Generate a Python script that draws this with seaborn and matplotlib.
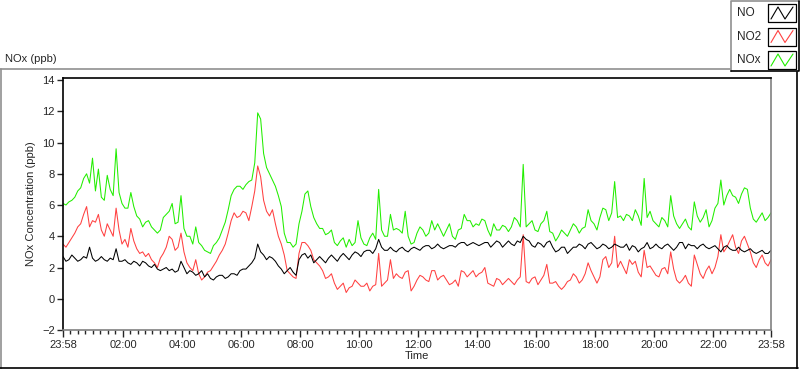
import matplotlib
matplotlib.use("Agg")
import matplotlib.pyplot as plt
import matplotlib.dates as mdates
from matplotlib.lines import Line2D
import pandas as pd
import seaborn as sns

# readings taken every 6 minutes after 23:58:
# *_on = on the 12-minute marks, *_mid = the readings in between
minutes = list(range(0, 1441, 6))

no_on = [2.7, 2.5, 2.6, 2.5, 2.6, 2.6, 2.5, 2.5, 2.6, 3.2, 2.4, 2.3, 2.4, 2.1, 2.3, 2.0, 1.9, 1.9, 1.8, 1.7, 2.4, 1.6, 1.7, 1.6,
         1.4, 1.3, 1.4, 1.5, 1.4, 1.6, 1.8, 1.9, 2.3, 3.5, 2.8, 2.7, 2.4, 1.9, 1.8, 1.7, 2.5, 2.9, 2.8, 2.5, 2.5, 2.6, 2.6, 2.7,
         2.7, 2.8, 2.9, 3.0, 3.1, 3.2, 3.3, 3.1, 3.1, 3.2, 3.1, 3.2, 3.2, 3.3, 3.4, 3.3, 3.3, 3.3, 3.4, 3.5, 3.6, 3.5, 3.5, 3.5,
         3.6, 3.5, 3.6, 3.5, 3.5, 3.7, 4.0, 3.7, 3.3, 3.5, 3.6, 3.3, 3.1, 3.3, 3.1, 3.3, 3.4, 3.5, 3.4, 3.3, 3.4, 3.3, 3.4, 3.3,
         3.1, 3.3, 3.2, 3.6, 3.3, 3.3, 3.4, 3.3, 3.3, 3.6, 3.5, 3.4, 3.4, 3.3, 3.3, 3.2, 3.3, 3.2, 3.1, 3.1, 3.1, 3.0, 3.0, 2.9, 3.1]
no_mid = [2.4, 2.8, 2.4, 2.7, 3.3, 2.4, 2.7, 2.4, 2.5, 2.4, 2.5, 2.2, 2.3, 2.4, 2.1, 2.2, 1.8, 2.0, 1.9, 1.8, 2.0, 1.8, 1.5, 1.8,
          1.6, 1.2, 1.5, 1.3, 1.6, 1.5, 1.9, 2.1, 2.6, 3.0, 2.5, 2.6, 2.1, 1.6, 2.0, 1.5, 2.8, 2.6, 2.3, 2.7, 2.3, 2.8, 2.4, 2.9,
          2.5, 3.0, 2.7, 3.1, 2.9, 3.8, 3.1, 3.3, 3.0, 3.3, 3.0, 3.3, 3.1, 3.4, 3.2, 3.5, 3.2, 3.4, 3.3, 3.6, 3.4, 3.6, 3.4, 3.6,
          3.3, 3.7, 3.3, 3.7, 3.4, 3.6, 3.8, 3.4, 3.6, 3.3, 3.7, 3.0, 3.3, 2.9, 3.3, 3.5, 3.2, 3.6, 3.2, 3.5, 3.2, 3.5, 3.3, 3.5,
          3.4, 3.0, 3.3, 3.2, 3.5, 3.2, 3.5, 3.1, 3.6, 3.2, 3.4, 3.2, 3.5, 3.2, 3.4, 3.0, 3.4, 3.1, 3.3, 3.0, 3.2, 2.9, 3.1, 2.9]

no2_on = [3.5, 3.6, 4.2, 4.8, 5.9, 5.0, 5.4, 4.0, 4.4, 5.8, 3.5, 3.3, 3.7, 2.9, 2.7, 2.5, 2.0, 2.9, 4.0, 3.1, 4.2, 2.3, 1.8, 1.6,
          1.4, 1.8, 2.4, 3.1, 4.2, 5.5, 5.3, 5.5, 5.9, 8.5, 6.3, 5.3, 4.8, 3.5, 1.8, 1.4, 2.9, 3.6, 3.1, 2.3, 1.8, 1.4, 1.0, 0.8,
          0.4, 0.8, 1.0, 0.8, 0.5, 0.9, 0.8, 1.2, 1.3, 1.4, 1.7, 0.5, 1.2, 1.4, 1.1, 1.8, 1.4, 1.2, 1.0, 0.8, 1.7, 1.6, 1.4, 1.7,
          1.0, 0.8, 1.2, 1.1, 1.1, 1.2, 4.1, 1.0, 1.4, 1.2, 2.2, 1.0, 0.8, 0.8, 1.2, 1.4, 1.2, 2.3, 1.4, 1.4, 2.7, 2.3, 2.0, 2.0,
          2.5, 2.4, 1.4, 2.0, 1.8, 1.4, 2.0, 3.0, 1.2, 1.2, 1.0, 2.8, 1.6, 1.8, 1.6, 2.7, 3.0, 3.7, 3.3, 3.7, 3.5, 2.3, 2.5, 2.3, 2.5]
no2_mid = [3.3, 3.9, 4.6, 5.4, 4.6, 4.9, 4.4, 4.8, 4.0, 4.4, 3.8, 4.5, 3.2, 3.0, 2.9, 2.3, 2.6, 3.3, 3.8, 3.3, 3.0, 2.0, 2.5, 1.2,
           1.7, 2.1, 2.8, 3.5, 5.0, 5.2, 5.6, 5.0, 6.9, 7.8, 5.6, 5.7, 4.0, 2.8, 1.6, 1.3, 3.6, 3.4, 2.5, 2.1, 1.3, 1.6, 0.6, 1.0,
           0.7, 1.2, 0.8, 1.0, 0.8, 2.9, 1.0, 2.5, 1.6, 1.3, 1.8, 0.8, 1.5, 1.2, 1.8, 1.2, 1.5, 0.9, 1.2, 1.8, 1.4, 1.8, 1.6, 2.0,
           0.9, 1.3, 0.9, 1.3, 0.9, 1.4, 1.1, 1.3, 0.9, 1.5, 1.0, 1.1, 0.6, 1.1, 1.6, 1.0, 1.6, 1.8, 1.0, 2.5, 2.0, 4.0, 2.4, 1.6,
           2.2, 1.7, 3.1, 2.1, 1.5, 1.9, 1.6, 1.9, 1.0, 1.5, 0.8, 2.2, 1.3, 2.1, 2.0, 4.1, 3.3, 4.1, 2.9, 4.0, 3.0, 2.0, 2.8, 2.1]

nox_on = [6.1, 6.2, 6.5, 7.1, 8.0, 9.0, 8.3, 6.3, 7.0, 9.6, 6.1, 5.8, 5.9, 5.1, 4.9, 4.6, 4.2, 5.2, 5.6, 4.8, 6.6, 4.0, 3.5, 3.6,
          3.1, 2.9, 3.6, 4.4, 5.7, 7.0, 7.2, 7.3, 7.6, 11.9, 9.3, 8.0, 7.2, 5.9, 3.6, 3.3, 4.8, 6.7, 5.9, 4.8, 4.5, 4.2, 3.6, 3.7,
          3.3, 3.4, 5.0, 3.5, 3.9, 3.8, 4.4, 4.0, 4.4, 4.4, 5.6, 3.5, 4.2, 4.4, 4.2, 4.4, 4.4, 4.4, 4.0, 4.4, 5.4, 5.0, 4.8, 5.1,
          4.4, 4.8, 4.4, 4.6, 4.6, 5.0, 8.6, 4.8, 4.4, 4.8, 5.6, 4.2, 4.0, 4.2, 4.4, 4.6, 4.5, 5.7, 4.8, 5.2, 5.7, 5.5, 5.2, 5.0,
          5.3, 5.7, 4.7, 5.2, 5.0, 4.6, 5.0, 6.6, 4.8, 4.8, 4.6, 6.2, 4.9, 5.7, 5.0, 6.1, 6.0, 7.0, 6.5, 6.7, 7.0, 5.1, 5.2, 5.0, 5.5]
nox_mid = [6.0, 6.3, 6.9, 7.7, 7.4, 6.9, 6.5, 7.9, 6.6, 6.8, 5.8, 6.8, 5.3, 4.6, 5.0, 4.4, 4.4, 5.4, 6.1, 4.9, 4.5, 4.0, 4.6, 3.4,
           3.0, 3.4, 3.9, 4.9, 6.6, 7.2, 7.0, 7.5, 8.7, 11.5, 8.4, 7.6, 6.6, 4.2, 3.6, 3.5, 5.6, 6.9, 5.2, 4.5, 4.1, 4.4, 3.4, 3.9,
           3.8, 3.6, 3.9, 3.4, 4.2, 7.0, 4.0, 5.4, 4.5, 4.2, 4.0, 3.6, 4.6, 4.0, 5.0, 4.8, 4.0, 4.8, 3.8, 4.5, 5.0, 4.6, 4.7, 5.0,
           4.0, 4.4, 4.7, 4.3, 5.2, 4.6, 4.6, 5.0, 4.3, 5.0, 4.3, 3.7, 4.4, 4.0, 4.8, 4.2, 4.6, 5.0, 4.4, 5.8, 5.0, 7.5, 5.3, 5.4,
           5.0, 5.3, 7.7, 5.6, 4.8, 5.2, 4.6, 5.3, 4.5, 5.1, 4.4, 5.3, 5.2, 4.6, 5.8, 7.6, 6.6, 6.6, 6.1, 7.1, 5.8, 4.9, 5.5, 5.2]

series_names = ["NO", "NO2", "NOx"]
series_colors = {"NO": "black", "NO2": "#ff4040", "NOx": "#22ee00"}
tick_labels = ["23:58", "02:00", "04:00", "06:00", "08:00", "10:00", "12:00",
               "14:00", "16:00", "18:00", "20:00", "22:00", "23:58"]


def merge(on, mid):
    out = []
    for i, v in enumerate(on):
        out.append(v)
        if i < len(mid):
            out.append(mid[i])
    return out


no = merge(no_on, no_mid)
no2 = merge(no2_on, no2_mid)
nox = merge(nox_on, nox_mid)

start = pd.Timestamp("2015-01-01 23:58")
times = [start + pd.Timedelta(minutes=m) for m in minutes]
n = len(minutes)
df = pd.DataFrame({
    "Time": times * 3,
    "ppb": no + no2 + nox,
    "Series": ["NO"] * n + ["NO2"] * n + ["NOx"] * n,
})

sns.set_style("white")
plt.rcParams["font.family"] = ["Liberation Sans", "DejaVu Sans"]

fig = plt.figure(figsize=(8, 3.69), dpi=100)
ax = fig.add_axes([63 / 800, 1 - 330 / 369, 708 / 800, 252 / 369])

sns.lineplot(data=df, x="Time", y="ppb", hue="Series", hue_order=["NOx", "NO2", "NO"],
             palette=series_colors, linewidth=0.75, legend=False, ax=ax)

# axes
ax.set_ylim(-2, 14.13)
ax.set_yticks(range(-2, 15, 2))
end = start + pd.Timedelta(minutes=1440)
ax.set_xlim(start, end)
major = [start] + [pd.Timestamp("2015-01-02 00:00") + pd.Timedelta(hours=h) for h in range(2, 24, 2)] + [end]
major_num = [mdates.date2num(t) for t in major]
minor_num = []
for a, b in zip(major_num[:-1], major_num[1:]):
    minor_num += [a + (b - a) * k / 8 for k in range(1, 8)]
ax.set_xticks(major_num)
ax.set_xticklabels(tick_labels)
ax.set_xticks(minor_num, minor=True)

ax.tick_params(axis="y", which="major", length=4, width=1, direction="out", labelsize=8, pad=2, left=True)
ax.tick_params(axis="x", which="major", length=5, width=1, direction="out", labelsize=8, pad=2, bottom=True)
ax.tick_params(axis="x", which="minor", length=3, width=1, direction="out", bottom=True)

ax.set_xlabel("Time", fontsize=8, labelpad=1)
ax.set_ylabel("NOx Concentration (ppb)", fontsize=8, labelpad=4)

ax.spines["left"].set_color("black")
ax.spines["top"].set_color("black")
ax.spines["bottom"].set_color("#808080")
ax.spines["right"].set_color("#808080")
for s in ax.spines.values():
    s.set_linewidth(1.2)

# outer frame and title
fig.add_artist(Line2D([0, 730 / 800], [1 - 69 / 369] * 2, color="#909090", lw=1.2))
fig.add_artist(Line2D([0.6 / 800] * 2, [0, 1 - 69 / 369], color="#909090", lw=1.2))
fig.add_artist(Line2D([0, 798 / 800], [0.6 / 369] * 2, color="black", lw=1.2))
fig.add_artist(Line2D([797 / 800] * 2, [0, 1 - 72 / 369], color="black", lw=1.2))
fig.text(5 / 800, 1 - 59 / 369, "NOx (ppb)", fontsize=8, va="center", ha="left")

# legend box
lax = fig.add_axes([730 / 800, 1 - 72 / 369, 70 / 800, 72 / 369])
lax.set_xlim(0, 70)
lax.set_ylim(72, 0)
lax.axis("off")
lax.plot([0.5, 0.5, 69], [72, 0.5, 0.5], color="#909090", lw=1.2)
lax.plot([0.5, 69.3, 69.3], [71.3, 71.3, 0.5], color="black", lw=1.2)
for i, name in enumerate(series_names):
    c = 13 + i * 23.5
    lax.text(7, c, name, fontsize=8.5, va="center", ha="left")
    lax.plot([38, 66, 66, 38, 38], [c - 9, c - 9, c + 9, c + 9, c - 9], color="black", lw=0.9)
    lax.plot([41, 48, 55, 63], [c + 6, c - 6, c + 6, c - 6], color=series_colors[name], lw=0.8)

fig.savefig("out.png", dpi=100)
